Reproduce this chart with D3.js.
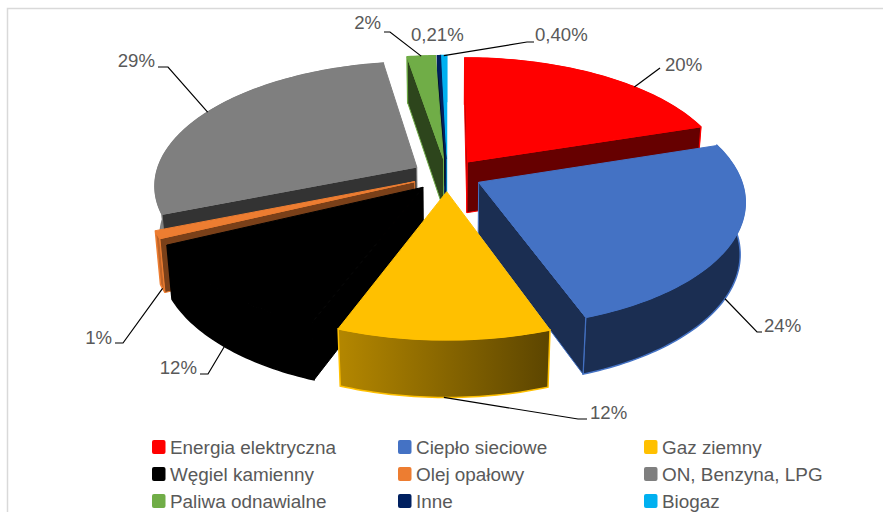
<!DOCTYPE html>
<html>
<head>
<meta charset="utf-8">
<script src="https://cdn.jsdelivr.net/npm/d3@7"></script>
<style>
  html, body { margin: 0; padding: 0; background: #fff; }
  svg { display: block; }
  text { font-family: "Liberation Sans", Arial, sans-serif; fill: #595959; }
</style>
</head>
<body>
<svg id="chart" width="883" height="512"></svg>
<script>
// data
const categories = ['Energia elektryczna', 'Ciepło sieciowe', 'Gaz ziemny', 'Węgiel kamienny', 'Olej opałowy', 'ON, Benzyna, LPG', 'Paliwa odnawialne', 'Inne', 'Biogaz']
const values = [20, 24.55, 11.2, 12.15, 1, 28.5, 2, 0.21, 0.4]
const valueLabels = ['20%', '24%', '12%', '12%', '1%', '29%', '2%', '0,21%', '0,40%']

const topColors = ['#ff0000', '#4472c4', '#ffc000', '#000000', '#ed7d31', '#7f7f7f', '#70ad47', '#002060', '#00b0f0']
const faceColors = ['#660000', '#1b2e52', '#7a5c00', '#000000', '#7a4019', '#333333', '#2d451c', '#00102f', '#005a7a']
const wallColors = ['#660000', '#1b2e52', 'url(#gasWall)', '#000000', '#bf6428', '#8a8a8a', '#2d451c', '#00102f', '#005a7a']

// camera for the tilted pie
const cx = 447, cy = 175
const radius = 261, explode = 35, depth = 59
const tilt = 27.9 * Math.PI / 180, camera = 1636

// label layout: where on the rim the leader starts, elbow points, text position
const leaders = [
  { at: 0.64, pts: [[660, 68]], text: [665, 71], anchor: 'start' },
  { at: 0.52, low: true, pts: [[757, 332], [762, 332]], text: [764, 332], anchor: 'start' },
  { at: 0.5, low: true, pts: [[578, 419], [587, 419]], text: [590, 419], anchor: 'start' },
  { at: 0.5, low: true, pts: [[208, 374], [200, 374]], text: [197, 374], anchor: 'end' },
  { at: 0.5, low: true, pts: [[123, 343], [115, 343]], text: [112, 344], anchor: 'end' },
  { at: 0.5, pts: [[168, 67], [158, 67]], text: [155, 67], anchor: 'end' },
  { at: 0.5, pts: [[390, 32], [384, 32]], text: [381, 29], anchor: 'end' },
  null,
  { at: 0.5, pts: [[527, 42], [534, 42]], text: [535, 41], anchor: 'start' }
]
const plainLabelPos = { 7: [411, 41] }

const svg = d3.select('#chart')

function project(x, y, z) {
  const d = camera - y * Math.cos(tilt) - z * Math.sin(tilt)
  const s = camera / d
  return [cx + x * s, cy + (y * Math.sin(tilt) - z * Math.cos(tilt)) * s]
}

// clockwise angle from 12 o'clock, like d3.pie
function rim(slice, angle, z) {
  const mid = (slice.startAngle + slice.endAngle) / 2
  const ox = explode * Math.sin(mid), oy = -explode * Math.cos(mid)
  return project(ox + radius * Math.sin(angle), oy - radius * Math.cos(angle), z)
}

function apex(slice, z) {
  const mid = (slice.startAngle + slice.endAngle) / 2
  return project(explode * Math.sin(mid), -explode * Math.cos(mid), z)
}

function arcPoints(slice, z) {
  const n = Math.max(2, Math.ceil((slice.endAngle - slice.startAngle) / 0.02))
  const t = d3.scaleLinear().domain([0, n]).range([slice.startAngle, slice.endAngle])
  return d3.range(n + 1).map(i => rim(slice, t(i), z))
}

// signed area on screen, y down
function area(poly) {
  return d3.sum(poly, (p, i) => {
    const q = poly[(i + 1) % poly.length]
    return p[0] * q[1] - q[0] * p[1]
  })
}

const line = d3.line().curve(d3.curveLinearClosed)
const pathLine = d3.line()

const defs = svg.append('defs')
const grad = defs.append('linearGradient').attr('id', 'gasWall')
grad.append('stop').attr('offset', '0%').attr('stop-color', '#b48700')
grad.append('stop').attr('offset', '100%').attr('stop-color', '#5c4500')

// chart frame
svg.append('path').attr('d', 'M7.5,512V8.5H883').attr('fill', 'none').attr('stroke', '#d9d9d9').attr('stroke-width', 1.5)

const slices = d3.pie().sort(null).value(d => d)(values)
slices.forEach((s, i) => { s.i = i })

// painter's order, far slices first
const drawOrder = slices.slice().sort((a, b) =>
  d3.descending(Math.cos((a.startAngle + a.endAngle) / 2), Math.cos((b.startAngle + b.endAngle) / 2)))

const pie = svg.append('g')
drawOrder.forEach(s => {
  const g = pie.append('g')
  const top = topColors[s.i]
  const a0 = apex(s, 0), a1 = apex(s, -depth)

  // outer wall
  const wallTop = arcPoints(s, 0), wallBottom = arcPoints(s, -depth).reverse()
  g.append('path')
    .attr('d', line(wallTop.concat(wallBottom)))
    .attr('fill', wallColors[s.i]).attr('stroke', top).attr('stroke-width', 1.5)

  // radial cut faces, only the ones turned to the camera
  const startFace = [a0, rim(s, s.startAngle, 0), rim(s, s.startAngle, -depth), a1]
  const endFace = [a0, rim(s, s.endAngle, 0), rim(s, s.endAngle, -depth), a1]
  if (area(startFace) < 0) {
    g.append('path').attr('d', line(startFace))
      .attr('fill', faceColors[s.i]).attr('stroke', top).attr('stroke-width', 1)
  }
  if (area(endFace) > 0) {
    g.append('path').attr('d', line(endFace))
      .attr('fill', faceColors[s.i]).attr('stroke', top).attr('stroke-width', 1)
  }

  // top surface
  g.append('path')
    .attr('d', line([a0].concat(arcPoints(s, 0))))
    .attr('fill', top).attr('stroke', top).attr('stroke-width', 1)
})

// leader lines and value labels
const labelSize = 18.6
slices.forEach((s, i) => {
  const lead = leaders[i]
  if (!lead) {
    const p = plainLabelPos[i]
    svg.append('text').attr('x', p[0]).attr('y', p[1]).attr('font-size', labelSize).text(valueLabels[i])
    return
  }
  const angle = s.startAngle + (s.endAngle - s.startAngle) * lead.at
  const start = rim(s, angle, lead.low ? -depth : 0)
  svg.append('path')
    .attr('d', pathLine([start].concat(lead.pts)))
    .attr('fill', 'none').attr('stroke', '#000').attr('stroke-width', 1.2)
  svg.append('text').attr('x', lead.text[0]).attr('y', lead.text[1])
    .attr('text-anchor', lead.anchor).attr('font-size', labelSize).text(valueLabels[i])
})

// legend, three columns
const legendX = d3.scalePoint().domain(d3.range(3)).range([152, 644])
const legendY = d3.scalePoint().domain(d3.range(3)).range([447, 501])
const legend = svg.selectAll('g.legend').data(categories).join('g')
  .attr('class', 'legend')
  .attr('transform', (d, i) => `translate(${legendX(i % 3)},${legendY(Math.floor(i / 3))})`)
legend.append('rect').attr('x', 0).attr('y', -7).attr('width', 13.5).attr('height', 14).attr('rx', 2)
  .attr('fill', (d, i) => topColors[i])
legend.append('text').attr('x', 18).attr('y', 6.5).attr('font-size', 18.9).text(d => d)
</script>
</body>
</html>
